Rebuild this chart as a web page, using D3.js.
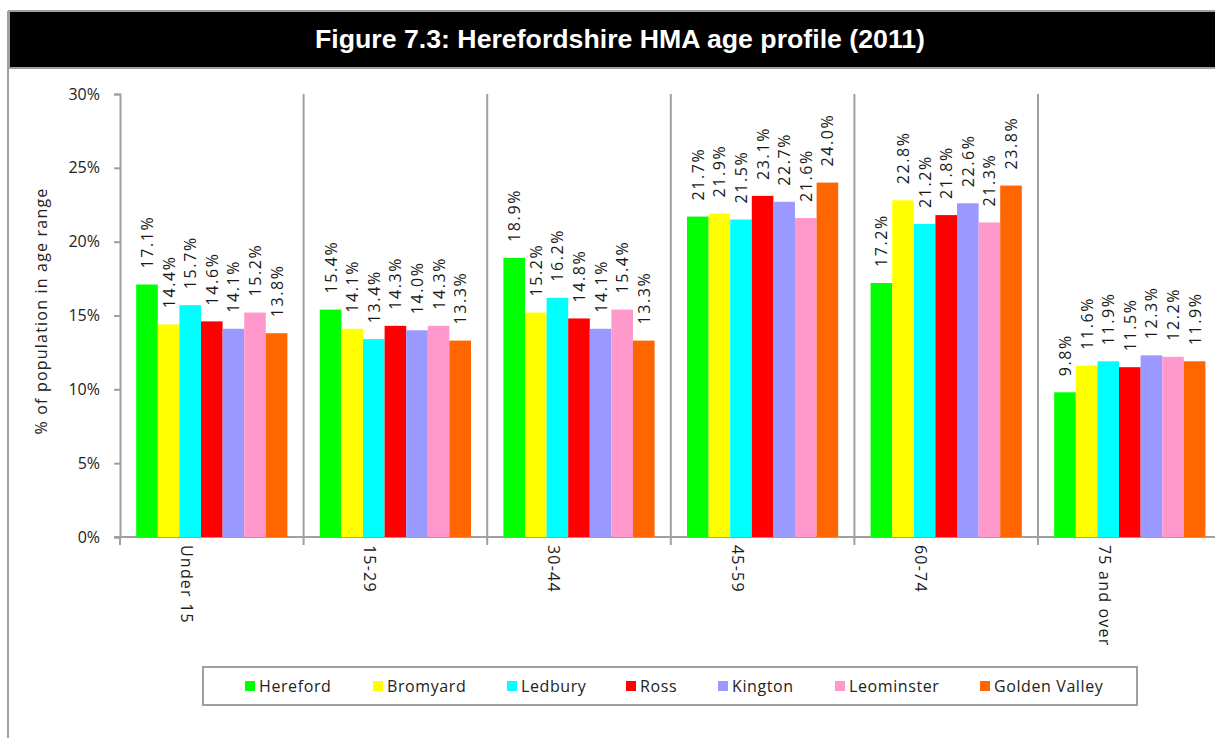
<!DOCTYPE html>
<html><head><meta charset="utf-8">
<script src="https://cdn.jsdelivr.net/npm/d3@7"></script>
<style>body{margin:0;background:#fff}svg{display:block}</style>
</head><body>
<script>
const categories = ["Under 15","15-29","30-44","45-59","60-74","75 and over"];
const seriesNames = ["Hereford","Bromyard","Ledbury","Ross","Kington","Leominster","Golden Valley"];
const seriesColors = ["#00FF00","#FFFF00","#00FFFF","#FF0000","#9999FF","#FF99CC","#FF6600"];
const hereford     = [17.1,15.4,18.9,21.7,17.2,9.8];
const bromyard     = [14.4,14.1,15.2,21.9,22.8,11.6];
const ledbury      = [15.7,13.4,16.2,21.5,21.2,11.9];
const ross         = [14.6,14.3,14.8,23.1,21.8,11.5];
const kington      = [14.1,14.0,14.1,22.7,22.6,12.3];
const leominster   = [15.2,14.3,15.4,21.6,21.3,12.2];
const goldenValley = [13.8,13.3,13.3,24.0,23.8,11.9];
const yTicks = [0,5,10,15,20,25,30];
const title = "Figure 7.3: Herefordshire HMA age profile (2011)";
const yTitle = "% of population in age range";

const seriesValues = [hereford,bromyard,ledbury,ross,kington,leominster,goldenValley];

const W = 1215, H = 738;
const svg = d3.select("body").append("svg").attr("width",W).attr("height",H);
const font = "'Open Sans', sans-serif";
const axisCol = "#a0a0a0";

// frame + header
svg.append("line").attr("x1",8).attr("x2",8).attr("y1",11).attr("y2",H).attr("stroke",axisCol).attr("stroke-width",2);
svg.append("rect").attr("x",9).attr("y",11).attr("width",W).attr("height",57).attr("fill","#000").attr("stroke",axisCol).attr("stroke-width",2);
svg.append("text").attr("x",315).attr("y",48)
  .attr("fill","#fff").attr("font-family","'Liberation Sans', Arial, sans-serif").attr("font-weight","bold")
  .attr("font-size",25).attr("textLength",610).attr("lengthAdjust","spacingAndGlyphs").text(title);

const plotLeft = 120, bandW = 183.6;
const x = d3.scaleBand().domain(categories).range([plotLeft, plotLeft + bandW*categories.length]).paddingInner(0).paddingOuter(0);
const xi = d3.scaleBand().domain(seriesNames).range([0, x.bandwidth()]).paddingInner(0).paddingOuter(0.75);
const y = d3.scaleLinear().domain([0,30]).range([537,94]);

// y axis
const yAxis = svg.append("g").attr("transform",`translate(${plotLeft},0)`)
  .call(d3.axisLeft(y).tickValues(yTicks).tickFormat(d=>d+"%").tickSize(6).tickPadding(14));
yAxis.select(".domain").attr("stroke",axisCol).attr("stroke-width",2);
yAxis.selectAll(".tick line").attr("stroke",axisCol).attr("stroke-width",2);
yAxis.selectAll(".tick text").attr("font-family",font).attr("font-size",16).attr("fill","#222");

// x axis baseline
svg.append("line").attr("x1",plotLeft-6).attr("x2",W).attr("y1",y(0)).attr("y2",y(0)).attr("stroke",axisCol).attr("stroke-width",2);
// separators
const seps = categories.map(c=>x(c)).concat([x(categories[5])+x.bandwidth()]).slice(1);
svg.selectAll(".sep").data(seps).enter().append("line")
  .attr("x1",d=>d).attr("x2",d=>d).attr("y1",y(30)).attr("y2",y(0)+8)
  .attr("stroke",axisCol).attr("stroke-width",2);
svg.append("line").attr("x1",plotLeft).attr("x2",plotLeft).attr("y1",y(0)).attr("y2",y(0)+8).attr("stroke",axisCol).attr("stroke-width",2);

// bars
categories.forEach((cat,ci)=>{
  const g = svg.append("g").attr("transform",`translate(${x(cat)},0)`);
  seriesNames.forEach((s,si)=>{
    const v = seriesValues[si][ci];
    g.append("rect").attr("x",xi(s)).attr("y",y(v)).attr("width",xi.bandwidth()).attr("height",y(0)-y(v)).attr("fill",seriesColors[si]);
    const cx = xi(s)+xi.bandwidth()/2+6;
    g.append("text").attr("transform",`translate(${cx},${y(v)-16}) rotate(-90)`)
      .attr("font-family",font).attr("font-size",16).attr("letter-spacing",1.6).attr("fill","#1a1a1a")
      .text(v.toFixed(1)+"%");
  });
  g.append("text").attr("transform",`translate(${x.bandwidth()/2-31},${y(0)+8}) rotate(90)`)
    .attr("font-family",font).attr("font-size",16).attr("letter-spacing",1.2).attr("fill","#1a1a1a")
    .text(cat);
});

// y title
svg.append("text").attr("transform",`translate(47,311) rotate(-90)`).attr("text-anchor","middle")
  .attr("font-family",font).attr("font-size",16).attr("letter-spacing",1.2).attr("fill","#222").text(yTitle);

// legend
svg.append("rect").attr("x",203).attr("y",667).attr("width",934).attr("height",38).attr("fill","#fff").attr("stroke",axisCol).attr("stroke-width",2);
const legX = [245,373,507,626,718,835,980];
seriesNames.forEach((s,i)=>{
  svg.append("rect").attr("x",legX[i]).attr("y",681).attr("width",10).attr("height",10).attr("fill",seriesColors[i]);
  svg.append("text").attr("x",legX[i]+14).attr("y",692).attr("font-family",font).attr("font-size",16).attr("letter-spacing",0.6).attr("fill","#222").text(s);
});
</script>
</body></html>
